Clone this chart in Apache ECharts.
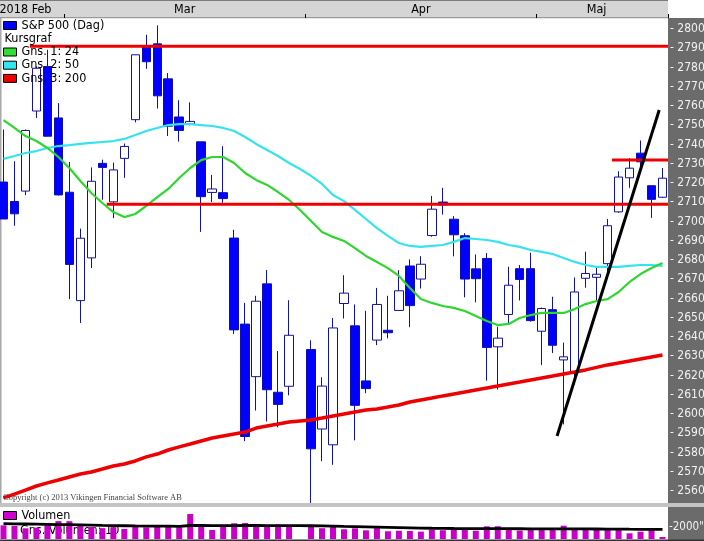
<!DOCTYPE html>
<html><head><meta charset="utf-8">
<script src="https://cdn.jsdelivr.net/npm/echarts@6/dist/echarts.min.js"></script>
<style>html,body{margin:0;padding:0;background:#fff}#c{width:704px;height:541px}</style>
</head><body><div id="c"></div>
<script>
// ---------- data ----------
const dates = ['2018-02-21','2018-02-22','2018-02-23','2018-02-26','2018-02-27','2018-02-28','2018-03-01','2018-03-02','2018-03-05','2018-03-06','2018-03-07','2018-03-08','2018-03-09','2018-03-12','2018-03-13','2018-03-14','2018-03-15','2018-03-16','2018-03-19','2018-03-20','2018-03-21','2018-03-22','2018-03-23','2018-03-26','2018-03-27','2018-03-28','2018-03-29','2018-03-30','2018-04-02','2018-04-03','2018-04-04','2018-04-05','2018-04-06','2018-04-09','2018-04-10','2018-04-11','2018-04-12','2018-04-13','2018-04-16','2018-04-17','2018-04-18','2018-04-19','2018-04-20','2018-04-23','2018-04-24','2018-04-25','2018-04-26','2018-04-27','2018-04-30','2018-05-01','2018-05-02','2018-05-03','2018-05-04','2018-05-07','2018-05-08','2018-05-09','2018-05-10','2018-05-11','2018-05-14','2018-05-15','2018-05-16'];
const opens = [2720.5,2710.4,2715.8,2757.4,2780.5,2753.8,2715.2,2658.9,2681.1,2730.2,2710.2,2732.8,2752.9,2790.5,2792.3,2774.1,2754.3,2750.6,2741.4,2715.1,2715.0,2691.4,2646.7,2619.4,2667.6,2611.3,2614.4,null,2633.5,2592.2,2584.0,2657.4,2645.8,2617.2,2638.4,2643.5,2653.8,2676.9,2670.1,2692.7,2710.1,2701.2,2692.6,2675.4,2680.8,2634.9,2651.7,2675.5,2675.5,2643.0,2654.2,2628.1,2621.5,2670.5,2671.0,2678.1,2705.0,2722.7,2735.5,2718.6,2712.6];
const highs = [2747.8,2731.3,2747.8,2780.6,2789.2,2761.5,2730.9,2696.3,2728.1,2732.1,2730.6,2740.5,2786.6,2797.0,2801.9,2777.1,2763.0,2761.9,2741.4,2724.2,2739.1,2695.7,2657.7,2661.4,2674.8,2632.7,2659.1,null,2638.3,2619.1,2649.9,2672.1,2656.9,2653.6,2665.5,2661.4,2674.7,2680.3,2682.0,2713.3,2717.5,2702.8,2693.9,2682.9,2683.6,2645.3,2676.5,2677.4,2683.8,2655.3,2660.9,2637.1,2670.9,2684.3,2676.3,2701.3,2726.1,2732.9,2742.1,2718.6,2727.8];
const lows = [2701.3,2697.8,2713.7,2753.8,2744.2,2713.5,2659.7,2647.3,2675.8,2711.3,2701.7,2722.7,2751.5,2779.3,2758.7,2744.4,2741.5,2750.0,2694.6,2710.1,2709.8,2641.6,2585.9,2601.8,2596.1,2593.1,2609.7,null,2553.8,2575.5,2573.6,2649.6,2586.3,2610.8,2635.8,2639.3,2653.8,2645.1,2665.2,2692.1,2703.6,2681.9,2660.6,2658.0,2617.3,2612.7,2647.2,2659.0,2648.0,2625.4,2631.7,2594.6,2615.3,2665.6,2658.3,2674.1,2704.5,2717.5,2725.5,2701.9,2712.2];
const closes = [2701.3,2704.0,2747.3,2779.6,2744.3,2713.8,2677.7,2691.3,2720.9,2728.1,2726.8,2739.0,2786.6,2783.0,2765.3,2749.5,2747.3,2752.0,2712.9,2716.9,2711.9,2643.7,2588.3,2658.6,2612.6,2605.0,2640.9,null,2581.9,2614.5,2644.7,2662.8,2604.5,2613.2,2656.9,2642.2,2664.0,2656.3,2677.8,2706.4,2708.6,2693.1,2670.1,2670.3,2634.6,2639.4,2666.9,2669.9,2648.5,2654.8,2635.7,2629.7,2663.4,2673.0,2672.6,2697.8,2723.1,2727.7,2731.0,2711.5,2722.5];
const ma24 = [2752.7,2748.6,2744.4,2741.8,2738.2,2733.5,2727.8,2721.0,2714.8,2709.6,2704.9,2702.3,2703.9,2708.1,2712.7,2716.9,2722.6,2727.8,2731.9,2733.5,2733.5,2730.4,2725.2,2721.6,2719.0,2715.3,2711.2,2706.0,2700.3,2694.5,2692.0,2689.9,2686.2,2682.1,2679.0,2675.8,2671.7,2665.5,2659.7,2657.7,2656.1,2655.1,2653.5,2650.9,2648.3,2646.2,2646.8,2649.9,2651.4,2652.5,2652.5,2652.5,2654.5,2657.1,2658.7,2659.7,2663.4,2668.6,2672.7,2675.8,2678.4];
const ma50 = [2732.5,2734.0,2735.6,2736.6,2738.2,2739.2,2739.7,2740.3,2740.8,2741.3,2741.8,2742.9,2744.9,2747.0,2748.6,2750.1,2750.6,2750.6,2750.1,2749.6,2748.6,2747.0,2743.9,2740.3,2737.1,2734.0,2730.4,2727.3,2723.7,2719.5,2713.8,2710.6,2706.0,2701.3,2696.6,2692.5,2688.8,2687.3,2686.8,2687.3,2687.8,2689.4,2691.4,2690.9,2690.4,2689.4,2687.8,2686.8,2685.2,2684.2,2683.1,2681.0,2679.0,2677.4,2676.4,2676.4,2676.4,2676.9,2677.4,2677.4,2676.9];
const ma200 = [2556.4,2558.4,2560.5,2562.6,2564.2,2565.7,2567.3,2568.8,2569.9,2571.4,2573.0,2574.0,2575.6,2577.7,2579.2,2581.3,2582.9,2584.4,2586.0,2587.5,2588.6,2589.6,2590.6,2592.7,2593.8,2594.8,2595.8,2596.4,2596.9,2597.9,2599.0,2600.0,2601.0,2602.1,2602.6,2603.6,2604.7,2606.2,2607.3,2608.3,2609.4,2610.4,2611.4,2612.5,2613.5,2614.5,2615.6,2616.6,2617.7,2618.7,2619.7,2620.8,2621.8,2622.9,2624.2,2625.5,2626.5,2627.5,2628.6,2629.6,2630.6];
const volumes = [2280,2180,1780,1890,2390,2980,2970,2440,1990,1810,1970,1680,2040,1920,2140,2080,1960,4160,2010,1510,2010,2620,2660,2160,2190,2390,2310,null,2180,1800,2090,1620,1780,1450,1810,1290,1380,1340,1230,1540,1460,1750,1780,1390,2110,2130,1750,1400,1840,1780,1830,2220,1760,1530,1720,1660,1550,950,1220,1710,330];
const volMA = [2550,2530,2500,2470,2440,2410,2380,2350,2310,2270,2240,2210,2180,2160,2140,2130,2120,2250,2250,2240,2230,2240,2250,2250,2240,2240,2230,2220,2210,2180,2150,2100,2060,2020,1980,1940,1900,1860,1820,1790,1770,1750,1740,1730,1730,1730,1720,1710,1700,1700,1700,1700,1690,1680,1670,1660,1650,1630,1620,1610,1600];
// horizontal levels (value, start position in bar units) and trend line
const levelValues = [2791, 2709, 2732];
const levelStarts = [2.4, 9.4, 55.4];
const trendX = [50.4, 59.7];
const trendY = [2588.6, 2757.9];
// top axis labels
const monthLabels = ['2018 Feb', 'Mar', 'Apr', 'Maj'];
const monthLabelPos = [2, 16.5, 38, 54];
const monthStartIdx = [6, 28, 49];
const yTickMin = 2560, yTickMax = 2800;
const volTickLabel = 2000;

// ---------- chart ----------
const FONT = "'Liberation Sans Narrow','DejaVu Sans Condensed','Liberation Sans',Arial,sans-serif";
const candles = dates.map((d, i) => opens[i] == null ? '-' : [opens[i], closes[i], lows[i], highs[i]]);
const volData = volumes.map(v => v == null ? '-' : v);
const lastX = dates.length - 0.5;

const chart = echarts.init(document.getElementById('c'), null, {renderer: 'canvas'});
const gridBase = {left: -2, width: 670, outerBoundsMode: 'none', containLabel: false};
chart.setOption({
  animation: false,
  backgroundColor: '#ffffff',
  grid: [
    Object.assign({top: 9.75, height: 500.5}, gridBase),
    Object.assign({top: 0, height: 18}, gridBase),
    Object.assign({top: 507, height: 32}, gridBase)
  ],
  xAxis: [
    {type: 'category', gridIndex: 0, data: dates, boundaryGap: true, show: false},
    {type: 'value', gridIndex: 0, min: -0.5, max: lastX, show: false},
    {type: 'category', gridIndex: 1, data: dates, boundaryGap: true, position: 'bottom',
      axisLine: {show: false}, axisLabel: {show: false}, splitLine: {show: false},
      axisTick: {show: true, inside: true, length: 4, interval: (idx) => monthStartIdx.includes(idx),
        lineStyle: {color: '#000', width: 1}}},
    {type: 'value', gridIndex: 1, min: -0.5, max: lastX, interval: 0.5, position: 'bottom',
      axisLine: {show: false}, axisTick: {show: false}, splitLine: {show: false},
      axisLabel: {inside: true, margin: 2, color: '#000', fontSize: 12.5, fontFamily: FONT,
        showMinLabel: true, showMaxLabel: true, hideOverlap: false,
        formatter: (v) => { const k = monthLabelPos.findIndex(p => Math.abs(p - v) < 1e-6); return k < 0 ? '' : monthLabels[k]; }}},
    {type: 'category', gridIndex: 2, data: dates, boundaryGap: true, show: false}
  ],
  yAxis: [
    {type: 'value', gridIndex: 0, position: 'right', min: 2550, max: 2810, interval: 10, scale: true,
      axisLine: {show: false}, axisTick: {show: false}, splitLine: {show: false},
      axisLabel: {margin: 2, color: '#f2f2f2', fontSize: 12, fontFamily: FONT,
        formatter: (v) => (v < yTickMin || v > yTickMax) ? '' : '- ' + v}},
    {type: 'value', gridIndex: 1, min: 0, max: 1, show: false},
    {type: 'value', gridIndex: 2, position: 'right', min: 0, max: 5333.33, interval: 1000,
      axisLine: {show: false}, axisTick: {show: false}, splitLine: {show: false},
      axisLabel: {margin: 1, color: '#f2f2f2', fontSize: 11.5, fontFamily: FONT,
        formatter: (v) => Math.abs(v - volTickLabel) < 1e-6 ? '-' + v + '"' : ''}}
  ],
  legend: [
    {data: [{name: 'S&P 500 (Dag)', icon: 'rect', itemStyle: {color: '#0000ff', borderColor: '#000', borderWidth: 1}}],
      left: 3, top: 19, padding: 0, itemWidth: 13, itemHeight: 8, selectedMode: false,
      textStyle: {fontSize: 12.5, fontFamily: FONT, color: '#000', lineHeight: 13}},
    {data: [
        {name: 'Gns. 1: 24', icon: 'rect', itemStyle: {color: '#30dd30', borderColor: '#000', borderWidth: 1}},
        {name: 'Gns. 2: 50', icon: 'rect', itemStyle: {color: '#30e8f0', borderColor: '#000', borderWidth: 1}},
        {name: 'Gns. 3: 200', icon: 'rect', itemStyle: {color: '#ee0000', borderColor: '#000', borderWidth: 1}}],
      orient: 'vertical', left: 3, top: 45.5, padding: 0, itemGap: 0.2, itemWidth: 13, itemHeight: 8, selectedMode: false,
      textStyle: {fontSize: 12.5, fontFamily: FONT, color: '#000', lineHeight: 13}},
    {data: [{name: 'Volumen', icon: 'rect', itemStyle: {color: '#d000d0', borderColor: '#000', borderWidth: 1}}],
      left: 3, top: 509, padding: 0, itemWidth: 13, itemHeight: 8, selectedMode: false,
      textStyle: {fontSize: 12.5, fontFamily: FONT, color: '#000', lineHeight: 13}}
  ],
  graphic: [
    {type: 'rect', silent: true, z: -10, shape: {x: 0, y: 0, width: 668, height: 18}, style: {fill: '#d5d5d5'}},
    {type: 'rect', silent: true, z: -9, shape: {x: 0, y: 0, width: 668, height: 1}, style: {fill: '#7c7c7c'}},
    {type: 'rect', silent: true, z: -9, shape: {x: 0, y: 17, width: 668, height: 1.2}, style: {fill: '#9a9a9a'}},
    {type: 'rect', silent: true, z: -10, shape: {x: 668, y: 18, width: 36, height: 523}, style: {fill: '#6b6b6b'}},
    {type: 'rect', silent: true, z: -9, shape: {x: 0, y: 18, width: 1.5, height: 485}, style: {fill: '#a8a8a8'}},
    {type: 'rect', silent: true, z: -9, shape: {x: 0, y: 503, width: 704, height: 4}, style: {fill: '#c4c4c4'}},
    {type: 'rect', silent: true, z: -9, shape: {x: 0, y: 539.5, width: 704, height: 1.5}, style: {fill: '#333'}},
    {type: 'text', silent: true, z: 10, x: 4.5, y: 39, style: {text: 'Kursgraf', font: '12.5px ' + FONT, fill: '#000', verticalAlign: 'middle'}},
    {type: 'text', silent: true, z: 10, x: 3, y: 498, style: {text: 'Copyright (c) 2013 Vikingen Financial Software AB', font: '8.5px "Liberation Serif", "Times New Roman", serif', fill: '#444', verticalAlign: 'middle'}},
    {type: 'text', silent: true, z: -5, x: 20, y: 530.5, style: {text: 'Gns. Volumen: 10', font: '12.5px ' + FONT, fill: '#000', verticalAlign: 'middle'}}
  ],
  series: [
    {name: 'S&P 500 (Dag)', type: 'candlestick', xAxisIndex: 0, yAxisIndex: 0, data: candles, barWidth: 9,
      itemStyle: {color: '#ffffff', color0: '#0000ff', borderColor: '#12129a', borderColor0: '#1010b0', borderWidth: 1}},
    {name: 'Gns. 3: 200', type: 'line', xAxisIndex: 0, yAxisIndex: 0, data: ma200, symbol: 'none', smooth: false,
      lineStyle: {color: '#ee0000', width: 3.5}, itemStyle: {color: '#ee0000'}},
    {name: 'Gns. 2: 50', type: 'line', xAxisIndex: 0, yAxisIndex: 0, data: ma50, symbol: 'none',
      lineStyle: {color: '#35e3ee', width: 2.2}, itemStyle: {color: '#35e3ee'}},
    {name: 'Gns. 1: 24', type: 'line', xAxisIndex: 0, yAxisIndex: 0, data: ma24, symbol: 'none',
      lineStyle: {color: '#2fd62f', width: 2.2}, itemStyle: {color: '#2fd62f'}},
    ...levelValues.map((v, k) => ({type: 'line', xAxisIndex: 1, yAxisIndex: 0, symbol: 'none', silent: true,
      data: [[levelStarts[k], v], [lastX, v]], lineStyle: {color: '#ee0000', width: 3}})),
    {type: 'line', xAxisIndex: 1, yAxisIndex: 0, symbol: 'none', silent: true,
      data: trendX.map((x, k) => [x, trendY[k]]), lineStyle: {color: '#000', width: 3}},
    {name: 'Volumen', type: 'bar', xAxisIndex: 4, yAxisIndex: 2, data: volData, barWidth: 6,
      itemStyle: {color: '#c800c8'}},
    {type: 'line', xAxisIndex: 4, yAxisIndex: 2, data: volMA, symbol: 'none', silent: true,
      lineStyle: {color: '#000', width: 2.8}}
  ]
});
</script>
</body></html>
